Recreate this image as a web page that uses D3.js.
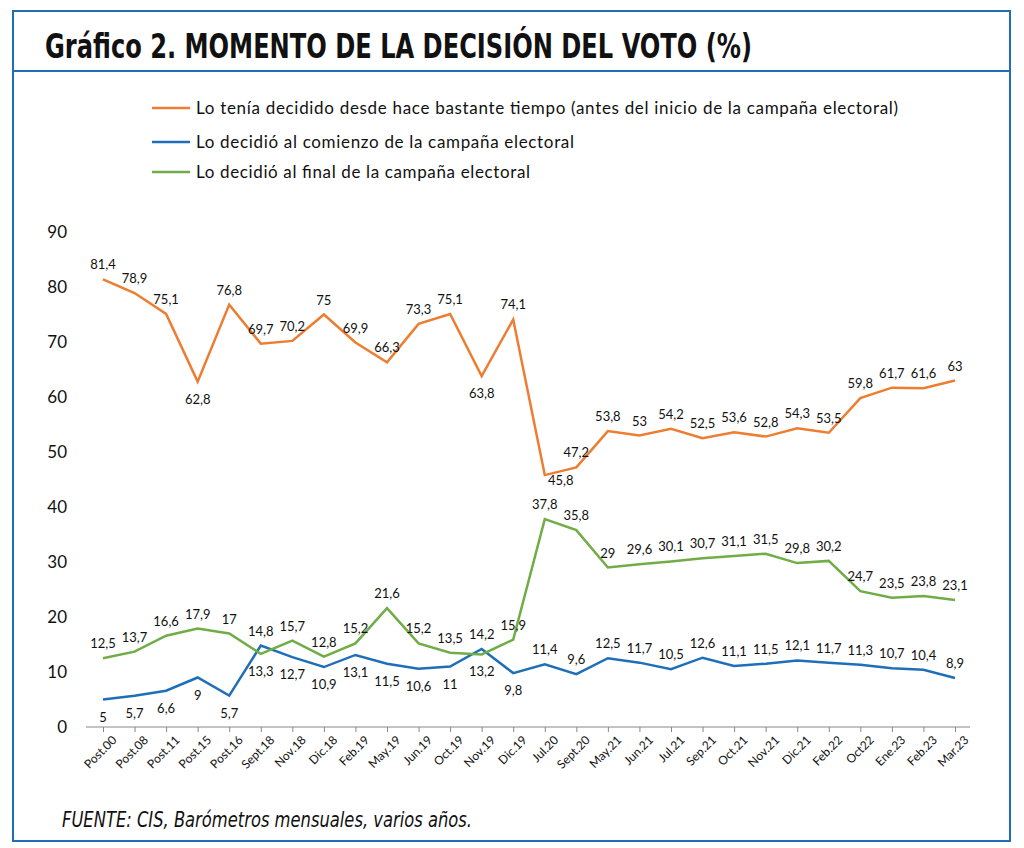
<!DOCTYPE html>
<html><head><meta charset="utf-8">
<script src="https://cdn.jsdelivr.net/npm/d3@7"></script>
<style>body{margin:0;background:#fff}</style>
</head><body>
<script>
const categories=["Post.00","Post.08","Post.11","Post.15","Post.16","Sept.18","Nov.18","Dic.18","Feb.19","May.19","Jun.19","Oct.19","Nov.19","Dic.19","Jul.20","Sept.20","May.21","Jun.21","Jul.21","Sep.21","Oct.21","Nov.21","Dic.21","Feb.22","Oct22","Ene.23","Feb.23","Mar.23"];
const antes=[81.4,78.9,75.1,62.8,76.8,69.7,70.2,75,69.9,66.3,73.3,75.1,63.8,74.1,45.8,47.2,53.8,53,54.2,52.5,53.6,52.8,54.3,53.5,59.8,61.7,61.6,63];
const comienzo=[5,5.7,6.6,9,5.7,14.8,12.7,10.9,13.1,11.5,10.6,11,14.2,9.8,11.4,9.6,12.5,11.7,10.5,12.6,11.1,11.5,12.1,11.7,11.3,10.7,10.4,8.9];
const final=[12.5,13.7,16.6,17.9,17,13.3,15.7,12.8,15.2,21.6,15.2,13.5,13.2,15.9,37.8,35.8,29,29.6,30.1,30.7,31.1,31.5,29.8,30.2,24.7,23.5,23.8,23.1];
const seriesNames=["Lo tenía decidido desde hace bastante tiempo (antes del inicio de la campaña electoral)","Lo decidió al comienzo de la campaña electoral","Lo decidió al final de la campaña electoral"];
const yTicks=[0,10,20,30,40,50,60,70,80,90];
const colors=["#ED7D31","#1F6FB8","#70AD47"];
const blueFrame="#1F6FB8";

const svg=d3.select("body").append("svg").attr("width",1024).attr("height",848);
svg.append("rect").attr("x",13).attr("y",11).attr("width",997).attr("height",830).attr("fill","none").attr("stroke",blueFrame).attr("stroke-width",2);
svg.append("line").attr("x1",13).attr("x2",1010).attr("y1",71).attr("y2",71).attr("stroke",blueFrame).attr("stroke-width",2);
svg.append("text").attr("x",45).attr("y",58).attr("font-family","'DejaVu Sans Condensed','DejaVu Sans',sans-serif").attr("font-weight","bold").attr("font-size",33).attr("fill","#111")
 .attr("textLength",707).attr("lengthAdjust","spacingAndGlyphs").text("Gráfico 2. MOMENTO DE LA DECISIÓN DEL VOTO (%)");

const x=d3.scalePoint().domain(categories).range([103,955]);
const y=d3.scaleLinear().domain([0,90]).range([727,232]);
const F="Lato, 'Open Sans', sans-serif";

svg.append("g").attr("transform","translate(75,0)").call(d3.axisLeft(y).tickValues(yTicks).tickSize(0).tickPadding(8))
 .call(g=>{g.select(".domain").remove();g.selectAll("text").attr("font-size",17).attr("font-family",F).attr("fill","#111");});
svg.append("line").attr("x1",86).attr("x2",970).attr("y1",y(0)).attr("y2",y(0)).attr("stroke","#888");
const xa=svg.append("g").attr("transform",`translate(0,${y(0)})`).call(d3.axisBottom(x).tickSize(5));
xa.select(".domain").remove();
xa.selectAll("line").attr("stroke","#888");
xa.selectAll("text").attr("font-size",12).attr("font-family",F).attr("fill","#111").attr("text-anchor","end").attr("transform","translate(4,4) rotate(-45)").attr("dx",0).attr("dy","0.5em");

const data=[antes,comienzo,final];
const line=d3.line().x((d,i)=>x(categories[i])).y(d=>y(d));
data.forEach((s,k)=>svg.append("path").attr("d",line(s)).attr("fill","none").attr("stroke",colors[k]).attr("stroke-width",2.5));

const fmt=v=>String(v).replace(".",",");
function pos(k,i){
  const s=data[k], d=s[i], X=x(categories[i]), Y=y(d);
  if(k===0){
    const drop=i>0?s[i-1]-d:0;
    if(drop>20) return [X+16,Y+10];
    if(drop>8) return [X,Y+22];
    return [X,Y-10];
  }
  if(k===2) return final[i]<comienzo[i]?[X,Y+22]:[X,Y-10];
  return (comienzo[i]>final[i]||i>=14)?[X,Y-10]:[X,Y+22];
}
data.forEach((s,k)=>{
  svg.append("g").selectAll("text").data(s).join("text")
   .attr("x",(d,i)=>pos(k,i)[0]).attr("y",(d,i)=>pos(k,i)[1])
   .attr("text-anchor","middle").attr("font-size",13).attr("font-family",F).attr("fill","#111").text(fmt);
});

const ly=[108,142,172];
const lw=[702,378,334];
seriesNames.forEach((n,k)=>{
  svg.append("line").attr("x1",152).attr("x2",190).attr("y1",ly[k]).attr("y2",ly[k]).attr("stroke",colors[k]).attr("stroke-width",2.5);
  svg.append("text").attr("x",196).attr("y",ly[k]+6).attr("font-size",17).attr("font-family",F).attr("fill","#111")
   .attr("textLength",lw[k]).attr("lengthAdjust","spacing").text(n);
});
svg.append("text").attr("x",62).attr("y",827).attr("font-size",21).attr("font-style","italic").attr("font-family","'DejaVu Sans Condensed','DejaVu Sans',sans-serif").attr("fill","#111")
 .attr("textLength",410).attr("lengthAdjust","spacingAndGlyphs").text("FUENTE: CIS, Barómetros mensuales, varios años.");
</script>
</body></html>
